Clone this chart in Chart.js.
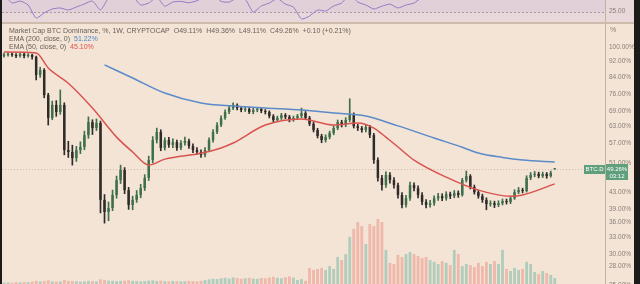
<!DOCTYPE html>
<html>
<head>
<meta charset="utf-8">
<script src="https://cdn.jsdelivr.net/npm/chart.js@4.4.0/dist/chart.umd.min.js"></script>
<style>
  html, body { margin: 0; padding: 0; background: #1c1b1a; }
  body { width: 640px; height: 284px; overflow: hidden; position: relative; font-family: 'Liberation Sans', Arial, sans-serif; }
  #frame { position: absolute; left: 2px; top: 0; width: 632px; height: 284px; background: #f3e4d6; overflow: hidden; }
  #rsiBox { position: absolute; left: 0; top: 0; width: 632px; height: 22px; background: #e8d8da; }
  #sep { position: absolute; left: 0; top: 22px; width: 632px; height: 2px; background: #cdbbab; }
  #mainBox { position: absolute; left: 0; top: 24px; width: 632px; height: 260px; }
  .legend { position: absolute; left: 7px; font-size: 7px; line-height: 8px; color: #6a6058; white-space: nowrap; }
  #pct { position: absolute; left: 608px; top: 26px; font-size: 7px; line-height: 8px; color: #8a7e76; }
</style>
</head>
<body>
<div id="frame">
  <div id="rsiBox"><canvas id="rsiChart" width="632" height="22"></canvas></div>
  <div id="sep"></div>
  <div id="mainBox"><canvas id="mainChart" width="632" height="260"></canvas></div>
  <div class="legend" style="top:27px">Market Cap BTC Dominance, %, 1W, CRYPTOCAP&nbsp; O49.11%&nbsp; H49.36%&nbsp; L49.11%&nbsp; C49.26%&nbsp; +0.10 (+0.21%)</div>
  <div class="legend" style="top:35px">EMA (200, close, 0)&nbsp; <span style="color:#4f86c6">51.22%</span></div>
  <div class="legend" style="top:43px">EMA (50, close, 0)&nbsp; <span style="color:#e0524e">45.10%</span></div>
  <div id="pct">%</div>
</div>
<script>
// Candles (one per slot)
const opens = [95.0, 95.5, 96.0, 95.5, 94.9, 96.0, 94.9, 95.5, 94.4, 85.0,
  87.5, 75.6, 66.2, 71.4, 68.5, 71.4, 54.9, 54.3, 52.4, 54.9,
  55.9, 59.9, 64.6, 62.4, 64.3, 41.1, 38.3, 39.2, 42.3, 46.1,
  48.9, 43.5, 39.9, 41.1, 42.3, 44.0, 46.7, 51.8, 58.2, 61.0,
  55.6, 58.2, 56.6, 57.5, 55.6, 57.2, 57.9, 56.2, 54.9, 54.3,
  53.4, 54.9, 58.2, 61.0, 63.5, 66.2, 68.5, 70.1, 71.4, 70.1,
  69.3, 69.7, 68.5, 69.3, 69.7, 68.9, 68.5, 66.9, 65.4, 66.2,
  67.3, 66.6, 65.4, 66.2, 66.9, 68.1, 66.2, 64.0, 61.7, 59.6,
  58.2, 59.2, 60.6, 62.4, 64.6, 63.5, 65.4, 67.3, 63.1, 62.4,
  61.7, 62.8, 59.9, 51.8, 46.7, 44.8, 47.5, 46.1, 44.8, 42.3,
  39.9, 41.5, 44.8, 44.0, 42.3, 40.6, 39.9, 40.3, 41.5, 42.0,
  41.5, 42.5, 42.0, 42.8, 42.3, 46.1, 47.2, 44.3, 43.0, 42.0,
  41.1, 40.1, 40.3, 39.9, 40.3, 40.8, 40.6, 41.5, 43.0, 43.5,
  43.3, 46.7, 47.5, 47.8, 47.2, 47.8, 47.2, 49.11];
const closes = [95.5, 96.0, 95.5, 94.9, 96.0, 94.9, 95.5, 94.4, 85.0, 87.5,
  75.6, 66.2, 71.4, 68.5, 71.4, 54.9, 54.3, 52.4, 54.9, 55.9,
  59.9, 64.6, 62.4, 64.3, 41.1, 38.3, 39.2, 42.3, 46.1, 48.9,
  43.5, 39.9, 41.1, 42.3, 44.0, 46.7, 51.8, 58.2, 61.0, 55.6,
  58.2, 56.6, 57.5, 55.6, 57.2, 57.9, 56.2, 54.9, 54.3, 53.4,
  54.9, 58.2, 61.0, 63.5, 66.2, 68.5, 70.1, 71.4, 70.1, 69.3,
  69.7, 68.5, 69.3, 69.7, 68.9, 68.5, 66.9, 65.4, 66.2, 67.3,
  66.6, 65.4, 66.2, 66.9, 68.1, 66.2, 64.0, 61.7, 59.6, 58.2,
  59.2, 60.6, 62.4, 64.6, 63.5, 65.4, 67.3, 63.1, 62.4, 61.7,
  62.8, 59.9, 51.8, 46.7, 44.8, 47.5, 46.1, 44.8, 42.3, 39.9,
  41.5, 44.8, 44.0, 42.3, 40.6, 39.9, 40.3, 41.5, 42.0, 41.5,
  42.5, 42.0, 42.8, 42.3, 46.1, 47.2, 44.3, 43.0, 42.0, 41.1,
  40.1, 40.3, 39.9, 40.3, 40.8, 40.6, 41.5, 43.0, 43.5, 43.3,
  46.7, 47.5, 47.8, 47.2, 47.8, 47.2, 48.1, 49.26];
const highs = [96.5, 96.8, 96.6, 96.2, 96.7, 96.4, 96.2, 96.0, 94.9, 88.9,
  88.2, 76.4, 73.0, 73.2, 77.9, 72.3, 57.8, 56.5, 56.1, 57.6,
  61.3, 66.6, 65.5, 65.8, 65.0, 42.4, 40.6, 43.5, 47.2, 50.3,
  49.6, 44.2, 42.0, 43.4, 45.0, 47.6, 53.0, 59.4, 62.4, 61.8,
  59.0, 59.1, 58.6, 58.2, 58.0, 59.2, 58.5, 56.9, 55.7, 55.0,
  55.7, 59.0, 61.9, 64.4, 67.0, 69.4, 71.0, 72.3, 71.9, 70.8,
  70.5, 70.3, 70.0, 70.4, 70.3, 69.5, 69.0, 67.5, 66.9, 68.0,
  67.9, 67.2, 66.9, 67.6, 70.1, 68.7, 66.8, 64.6, 62.3, 60.2,
  60.0, 61.3, 63.2, 65.4, 65.3, 66.3, 74.0, 68.2, 63.8, 63.0,
  63.6, 63.4, 60.5, 52.5, 47.4, 48.4, 48.2, 46.8, 45.3, 42.9,
  42.2, 45.6, 45.4, 44.6, 42.9, 41.2, 41.0, 42.1, 42.7, 42.6,
  43.1, 43.0, 43.4, 43.3, 46.6, 48.6, 47.6, 44.8, 43.5, 42.5,
  41.6, 40.9, 40.8, 40.9, 41.3, 41.3, 42.0, 43.6, 44.2, 44.0,
  47.3, 48.2, 48.5, 48.3, 48.3, 48.2, 48.6, 49.36];
const lows = [94.3, 94.8, 94.6, 94.0, 94.2, 93.9, 94.3, 93.2, 82.6, 83.8,
  74.4, 63.5, 65.5, 66.8, 67.6, 53.4, 52.6, 50.3, 51.4, 53.8,
  55.0, 58.8, 60.1, 61.5, 38.1, 35.9, 36.4, 38.6, 41.5, 45.2,
  42.6, 38.9, 38.8, 40.5, 41.6, 43.4, 46.0, 51.0, 57.2, 54.7,
  54.9, 55.8, 55.7, 54.8, 55.0, 56.5, 55.4, 54.1, 53.5, 52.6,
  52.8, 54.4, 57.5, 60.4, 62.9, 65.6, 67.9, 69.5, 69.4, 68.6,
  68.7, 67.9, 67.8, 68.6, 68.2, 67.7, 66.2, 64.7, 64.8, 65.6,
  65.9, 64.7, 64.9, 65.6, 66.3, 65.5, 63.3, 61.0, 58.9, 57.3,
  57.5, 58.6, 60.0, 61.8, 62.8, 62.9, 64.8, 62.4, 61.5, 60.9,
  61.0, 59.0, 50.8, 45.8, 43.5, 44.2, 45.3, 44.0, 41.5, 39.2,
  39.4, 41.0, 43.3, 41.6, 40.0, 39.2, 39.4, 39.8, 41.0, 40.9,
  41.0, 41.4, 41.6, 41.7, 42.0, 45.6, 43.8, 42.5, 41.5, 40.5,
  38.8, 39.6, 39.3, 39.5, 39.9, 40.1, 40.2, 41.2, 42.6, 42.8,
  43.0, 46.2, 47.0, 46.7, 46.8, 46.6, 46.9, 49.11];
const volumes = [0.5, 0.6, 0.5, 0.7, 0.6, 0.8, 0.7, 0.9, 1.2, 1.0,
  1.1, 1.4, 1.0, 0.9, 1.0, 1.5, 1.2, 1.1, 1.0, 0.9,
  1.0, 1.2, 1.1, 1.0, 1.8, 1.6, 1.3, 1.2, 1.1, 1.2,
  1.3, 1.4, 1.2, 1.1, 1.0, 1.1, 1.3, 1.4, 1.2, 1.3,
  1.1, 1.0, 1.2, 1.1, 1.0, 1.1, 1.2, 1.1, 1.0, 1.2,
  1.5, 1.8, 2.0, 1.9, 2.2, 2.4, 2.1, 2.5, 2.3, 2.0,
  2.2, 2.4, 2.1, 2.0, 2.3, 2.2, 2.5, 2.8, 2.4, 2.2,
  2.6, 2.9, 2.5, 1.5, 1.9, 1.2, 6.2, 5.4, 5.8, 6.2,
  5.4, 6.9, 5.8, 10.4, 9.2, 11.5, 18.1, 21.2, 23.8, 22.3,
  15.4, 23.1, 22.3, 25.0, 23.8, 13.1, 8.1, 7.7, 11.2, 10.4,
  11.5, 12.3, 11.5, 10.8, 10.0, 10.4, 9.2, 8.5, 7.7, 8.8,
  8.1, 7.3, 13.1, 11.5, 6.9, 7.7, 7.3, 6.5, 8.1, 6.9,
  8.5, 7.7, 8.8, 7.7, 13.1, 5.8, 5.0, 6.2, 5.4, 5.8,
  8.5, 7.7, 4.6, 3.8, 5.0, 4.2, 3.5, 2.3];

// Moving averages, read at a few slots
const ema200At = [25, 32, 40, 49, 57, 65, 74, 82, 90, 98, 107, 114, 118, 124, 129, 137];
const ema200 = [90.1, 83.5, 76.5, 72.2, 70.9, 70.1, 69.3, 68.1, 66.9, 63.2, 58.9, 55.8, 54.0, 52.6, 51.8, 51.22];
const ema50At = [0, 8, 11, 16, 22, 28, 32, 36, 40, 49, 54, 57, 65, 74, 82, 88, 92, 95, 98, 102, 110, 118, 126, 129, 137];
const ema50 = [97.1, 96.6, 88.5, 81.0, 70.1, 59.2, 54.3, 50.3, 52.1, 53.9, 55.6, 57.2, 63.5, 65.8, 63.5, 64.3, 62.4, 59.2, 55.9, 51.8, 46.9, 43.5, 42.0, 42.3, 45.1];

// RSI pane, one value every second slot
const rsi = [50, 37.6, 40.5, 34.7, 15.8, 23.1, 28.9, 30.4, 27.5, 31.8,
  36.2, 40.5, 27.5, 45, 52, 55, 48, 34.7, 37.6, 46,
  33, 39, 40, 38, 41, 47, 50, 40, 39, 45,
  43, 24.5, 33.3, 37.6, 44, 36, 31.8, 14.4, 18.7, 27.5,
  26, 33.3, 37.6, 50, 39, 34.7, 28.9, 33, 36, 30.4,
  34.7, 37.6, 46, 50, 52, 48, 50, 54, 55, 51,
  49, 53, 56, 58, 55, 57, 60, 58, 60];
const rsiBand = 25;

// Price axis labels
const priceTicks = [100, 92, 84, 76, 69, 63, 57, 51, 43, 39, 36, 33, 30, 28, 25];

const slotCount = 150;
const labels = Array.from({ length: slotCount }, (_, i) =>
  new Date(Date.UTC(2017, 0, 2) + i * 14 * 864e5).toISOString().slice(0, 10));

const fontFamily = "'Liberation Sans', Arial, sans-serif";
const axisColor = '#8a7e76';
const upColor = '#3e6f4b';
const downColor = '#302b29';
const volUp = 'rgba(120, 185, 168, 0.55)';
const volDown = 'rgba(236, 140, 125, 0.5)';

const isUp = closes.map((c, i) => c >= opens[i]);
const candleColors = isUp.map(u => u ? upColor : downColor);
const lastClose = closes[closes.length - 1];

// Last price line and BTC.D badge
const lastPricePlugin = {
  id: 'lastPrice',
  beforeDatasetsDraw(chart) {
    const { ctx, chartArea, scales: { y } } = chart;
    const py = Math.round(y.getPixelForValue(lastClose)) + 0.5;
    ctx.save();
    ctx.strokeStyle = 'rgba(180, 140, 130, 0.45)';
    ctx.setLineDash([1, 2]);
    ctx.beginPath();
    ctx.moveTo(chartArea.left, py);
    ctx.lineTo(chartArea.right, py);
    ctx.stroke();
    ctx.restore();
  },
  afterDraw(chart) {
    const { ctx, chartArea, scales: { y } } = chart;
    const py = Math.round(y.getPixelForValue(lastClose));
    const r = chartArea.right;
    ctx.save();
    ctx.fillStyle = '#5f9f7c';
    ctx.fillRect(r - 21, py - 4, 21, 9);
    ctx.fillRect(r + 1, py - 5, 22, 16);
    ctx.fillStyle = '#ffffff';
    ctx.font = `6px ${fontFamily}`;
    ctx.textBaseline = 'middle';
    ctx.textAlign = 'center';
    ctx.fillText('BTC.D', r - 10.5, py + 0.5);
    ctx.fillText(lastClose.toFixed(2) + '%', r + 12, py);
    ctx.fillText('03:12', r + 12, py + 7);
    ctx.restore();
  }
};

new Chart(document.getElementById('mainChart'), {
  data: {
    labels,
    datasets: [
      {
        type: 'bar',
        label: 'Vol',
        data: volumes,
        yAxisID: 'yVol',
        backgroundColor: isUp.map(u => u ? volUp : volDown),
        barPercentage: 0.7,
        categoryPercentage: 1,
        grouped: false,
        order: 5
      },
      {
        type: 'bar',
        label: 'Wicks',
        data: highs.map((h, i) => [lows[i], h]),
        yAxisID: 'y',
        backgroundColor: candleColors,
        barThickness: 1,
        grouped: false,
        order: 4
      },
      {
        type: 'bar',
        label: 'Bodies',
        data: opens.map((o, i) => [o, closes[i]]),
        yAxisID: 'y',
        backgroundColor: candleColors,
        barPercentage: 0.62,
        categoryPercentage: 1,
        minBarLength: 1,
        grouped: false,
        order: 3
      },
      {
        type: 'line',
        label: 'EMA 200',
        data: ema200At.map((i, k) => ({ x: labels[i], y: ema200[k] })),
        yAxisID: 'y',
        borderColor: '#5b8bc8',
        borderWidth: 1.5,
        pointRadius: 0,
        cubicInterpolationMode: 'monotone',
        order: 2
      },
      {
        type: 'line',
        label: 'EMA 50',
        data: ema50At.map((i, k) => ({ x: labels[i], y: ema50[k] })),
        yAxisID: 'y',
        borderColor: '#d9534f',
        borderWidth: 1.5,
        pointRadius: 0,
        cubicInterpolationMode: 'monotone',
        order: 1
      }
    ]
  },
  options: {
    responsive: false,
    animation: false,
    events: [],
    layout: { padding: 0 },
    plugins: { legend: { display: false }, tooltip: { enabled: false } },
    scales: {
      x: { type: 'category', offset: true, display: false },
      y: {
        type: 'logarithmic',
        position: 'right',
        min: 25.2,
        max: 114.3,
        afterBuildTicks: s => { s.ticks = priceTicks.map(v => ({ value: v })); },
        afterFit: s => { s.width = 29; s.paddingTop = 0; s.paddingBottom = 0; },
        ticks: {
          autoSkip: false,
          padding: 4,
          color: axisColor,
          font: { size: 6.5, family: fontFamily },
          callback: v => Number(v).toFixed(2) + '%'
        },
        grid: { display: false, drawTicks: false },
        border: { display: true, color: '#c2b2a2' }
      },
      yVol: { type: 'linear', display: false, min: 0, max: 100 }
    }
  },
  plugins: [lastPricePlugin]
});

// RSI band line
const rsiBandPlugin = {
  id: 'rsiBand',
  beforeDatasetsDraw(chart) {
    const { ctx, chartArea, scales: { y } } = chart;
    const py = Math.round(y.getPixelForValue(rsiBand)) + 0.5;
    ctx.save();
    ctx.fillStyle = 'rgba(150, 110, 200, 0.07)';
    ctx.fillRect(chartArea.left, chartArea.top, chartArea.right - chartArea.left, py - chartArea.top);
    ctx.strokeStyle = '#a898a8';
    ctx.setLineDash([2, 2]);
    ctx.beginPath();
    ctx.moveTo(chartArea.left, py);
    ctx.lineTo(chartArea.right, py);
    ctx.stroke();
    ctx.restore();
  }
};

new Chart(document.getElementById('rsiChart'), {
  type: 'line',
  data: {
    datasets: [{
      label: 'RSI',
      data: rsi.map((v, j) => ({ x: j * 2, y: v })),
      borderColor: '#9478c6',
      borderWidth: 1,
      pointRadius: 0,
      tension: 0.2
    }]
  },
  options: {
    responsive: false,
    animation: false,
    events: [],
    layout: { padding: 0 },
    plugins: { legend: { display: false }, tooltip: { enabled: false } },
    scales: {
      x: { type: 'linear', min: -0.5, max: slotCount - 0.5, display: false },
      y: {
        position: 'right',
        min: 10,
        max: 42,
        afterBuildTicks: s => { s.ticks = [{ value: rsiBand }]; },
        afterFit: s => { s.width = 29; s.paddingTop = 0; s.paddingBottom = 0; },
        ticks: {
          padding: 4,
          color: axisColor,
          font: { size: 6.5, family: fontFamily },
          callback: v => Number(v).toFixed(2)
        },
        grid: { display: false, drawTicks: false },
        border: { display: true, color: '#c2b2a2' }
      }
    }
  },
  plugins: [rsiBandPlugin]
});
</script>
</body>
</html>
